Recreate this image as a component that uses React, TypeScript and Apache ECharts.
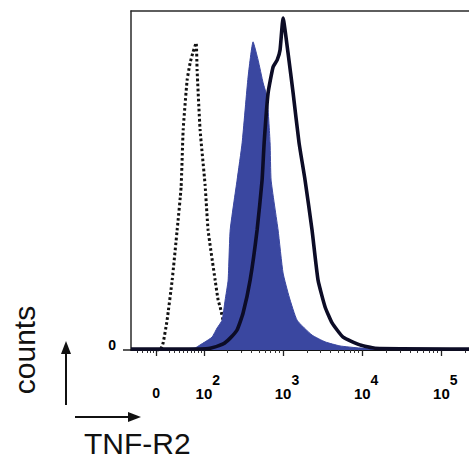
import React, { useEffect, useRef } from "react";
import * as echarts from "echarts";

// x values are in log-decade display units (10^2 -> 2, 10^3 -> 3 ...), y values are relative counts
const isotypeX = [1.40, 1.448, 1.486, 1.536, 1.600, 1.663, 1.713, 1.739, 1.789, 1.827, 1.864, 1.903, 1.915, 1.953, 2.016, 2.054, 2.143, 2.181, 2.206, 2.256, 2.307, 2.395, 2.52];
const isotypeY = [0, 0, 2.1, 8.8, 20.6, 35.4, 48.1, 64.9, 79.6, 84.7, 87.9, 90.6, 82.6, 64.9, 48.7, 35.4, 20.6, 14.7, 12.7, 7.4, 2.9, 0.6, 0];

const filledX = [1.08, 1.764, 1.890, 1.953, 2.016, 2.104, 2.168, 2.231, 2.269, 2.307, 2.333, 2.420, 2.484, 2.559, 2.622, 2.686, 2.749, 2.799, 2.837, 2.850, 2.938, 3.001, 3.079, 3.178, 3.367, 3.532, 3.720, 3.973, 5.35];
const filledY = [0.4, 0.4, 0.6, 1.5, 2.4, 3.8, 6.5, 8.8, 14.7, 20.6, 35.4, 50.1, 61.1, 80.5, 90.9, 85.5, 78.8, 74.6, 61.1, 50.1, 35.4, 22.7, 15.6, 8.8, 4.4, 2.4, 1.2, 0.6, 0.4];

const solidX = [1.08, 1.953, 2.080, 2.244, 2.333, 2.420, 2.496, 2.585, 2.673, 2.736, 2.762, 2.812, 2.875, 2.926, 2.963, 3.001, 3.064, 3.128, 3.203, 3.279, 3.367, 3.443, 3.532, 3.620, 3.759, 3.973, 4.163, 5.35];
const solidY = [0.3, 0.3, 0.5, 1.8, 3.5, 5.9, 10.9, 20.6, 35.4, 50.1, 61.1, 75.8, 83.5, 85.5, 88.5, 97.9, 87.6, 75.8, 61.1, 50.1, 35.4, 20.6, 12.7, 8.0, 3.8, 1.5, 0.5, 0.3];

const majorTickValues = [1.398, 2, 3, 4, 5];
const majorTickLabels = ["0", "2", "3", "4", "5"];
const minorTickValues = [
  1.158, 1.221, 1.284, 1.322, 1.36, 1.56, 1.63, 1.69, 1.74, 1.79, 1.84, 1.88, 1.93, 1.97,
  2.301, 2.477, 2.602, 2.699, 2.778, 2.845, 2.903, 2.954,
  3.301, 3.477, 3.602, 3.699, 3.778, 3.845, 3.903, 3.954,
  4.301, 4.477, 4.602, 4.699, 4.778, 4.845, 4.903, 4.954,
  5.301,
];

const X_MIN = 1.08;
const X_MAX = 5.35;
const Y_MAX = 100;

const zip = (xs: number[], ys: number[]) => xs.map((x, i) => [x, ys[i]]);

export default function App() {
  const ref = useRef<HTMLDivElement>(null);
  useEffect(() => {
    if (!ref.current) return;
    const chart = echarts.init(ref.current, null, { renderer: "svg" });
    const font = "Liberation Sans, Arial, Helvetica, sans-serif";
    const option: any = {
      animation: false,
      grid: {
        left: 131,
        top: 11,
        right: 0,
        bottom: 112,
        show: false,
      },
      xAxis: [
        {
          type: "value",
          min: X_MIN,
          max: X_MAX,
          splitLine: { show: false },
          axisLine: { show: true, onZero: false, lineStyle: { color: "#111", width: 2 } },
          axisTick: {
            show: true,
            customValues: majorTickValues,
            length: 6,
            lineStyle: { color: "#222", width: 1.3 },
          },
          axisLabel: {
            show: true,
            customValues: majorTickValues,
            margin: 36,
            color: "#000",
            fontFamily: font,
            formatter: (v: number) => {
              const i = majorTickValues.findIndex((t) => Math.abs(t - v) < 1e-6);
              if (i === 0) return "{z|0}";
              return "{sp| }{b|10}{s|" + majorTickLabels[i] + "}";
            },
            rich: {
              z: { fontSize: 14, fontWeight: "bold", fontFamily: font, color: "#000", lineHeight: 14, padding: [14, 0, 0, 0], verticalAlign: "bottom" },
              sp: { fontSize: 14, width: 8, lineHeight: 14, verticalAlign: "bottom" },
              b: { fontSize: 15, fontWeight: "bold", fontFamily: font, color: "#000", lineHeight: 15, verticalAlign: "bottom" },
              s: { fontSize: 14, fontWeight: "bold", fontFamily: font, color: "#000", lineHeight: 14, padding: [0, 0, 14, 0], verticalAlign: "bottom" },
            },
          },
        },
        {
          type: "value",
          min: X_MIN,
          max: X_MAX,
          position: "bottom",
          splitLine: { show: false },
          axisLine: { show: false },
          axisLabel: { show: false },
          axisTick: {
            show: true,
            customValues: minorTickValues,
            length: 3,
            lineStyle: { color: "#333", width: 1 },
          },
        },
        {
          type: "value",
          min: X_MIN,
          max: X_MAX,
          position: "top",
          splitLine: { show: false },
          axisLine: { show: true, lineStyle: { color: "#2a2a2a", width: 1.5 } },
          axisLabel: { show: false },
          axisTick: { show: false },
        },
      ],
      yAxis: {
        type: "value",
        min: 0,
        max: Y_MAX,
        splitLine: { show: false },
        axisLine: { show: true, lineStyle: { color: "#2a2a2a", width: 1.5 } },
        axisTick: { show: true, customValues: [0], length: 8, lineStyle: { color: "#222", width: 1.5 } },
        axisLabel: {
          show: true,
          customValues: [0],
          margin: 15,
          fontSize: 14,
          fontWeight: "bold",
          fontFamily: font,
          color: "#000",
          lineHeight: 10,
          verticalAlign: "bottom",
        },
      },
      series: [
        {
          type: "line",
          data: zip(isotypeX, isotypeY),
          showSymbol: false,
          smooth: 0.15,
          lineStyle: { color: "#111", width: 3, type: [2.6, 2.4] },
          z: 2,
        },
        {
          type: "line",
          data: zip(filledX, filledY),
          showSymbol: false,
          smooth: 0.15,
          lineStyle: { color: "#3a47a0", width: 1 },
          areaStyle: { color: "#3a47a0", opacity: 1 },
          z: 3,
        },
        {
          type: "line",
          data: zip(solidX, solidY),
          showSymbol: false,
          smooth: 0.15,
          lineStyle: { color: "#0c0c26", width: 3.6 },
          z: 4,
        },
      ],
      graphic: [
        {
          type: "text",
          x: 24,
          y: 350,
          rotation: Math.PI / 2,
          style: { text: "counts", fontSize: 30, fontFamily: font, fill: "#111", align: "center", verticalAlign: "middle" },
        },
        { type: "line", shape: { x1: 66, y1: 405, x2: 66, y2: 352 }, style: { stroke: "#111", lineWidth: 2 } },
        { type: "polygon", shape: { points: [[66, 341], [61, 354], [71, 354]] }, style: { fill: "#111" } },
        { type: "line", shape: { x1: 75, y1: 417, x2: 130, y2: 417 }, style: { stroke: "#111", lineWidth: 2 } },
        { type: "polygon", shape: { points: [[141, 417], [128, 412], [128, 422]] }, style: { fill: "#111" } },
        {
          type: "text",
          x: 84,
          y: 443,
          style: { text: "TNF-R2", fontSize: 30, fontFamily: font, fill: "#111", align: "left", verticalAlign: "middle" },
        },
      ],
    };
    chart.setOption(option);
    return () => chart.dispose();
  }, []);
  return (
    <div
      ref={ref}
      style={{ position: "fixed", left: 0, top: 0, width: 469, height: 462, background: "#fff" }}
    />
  );
}
